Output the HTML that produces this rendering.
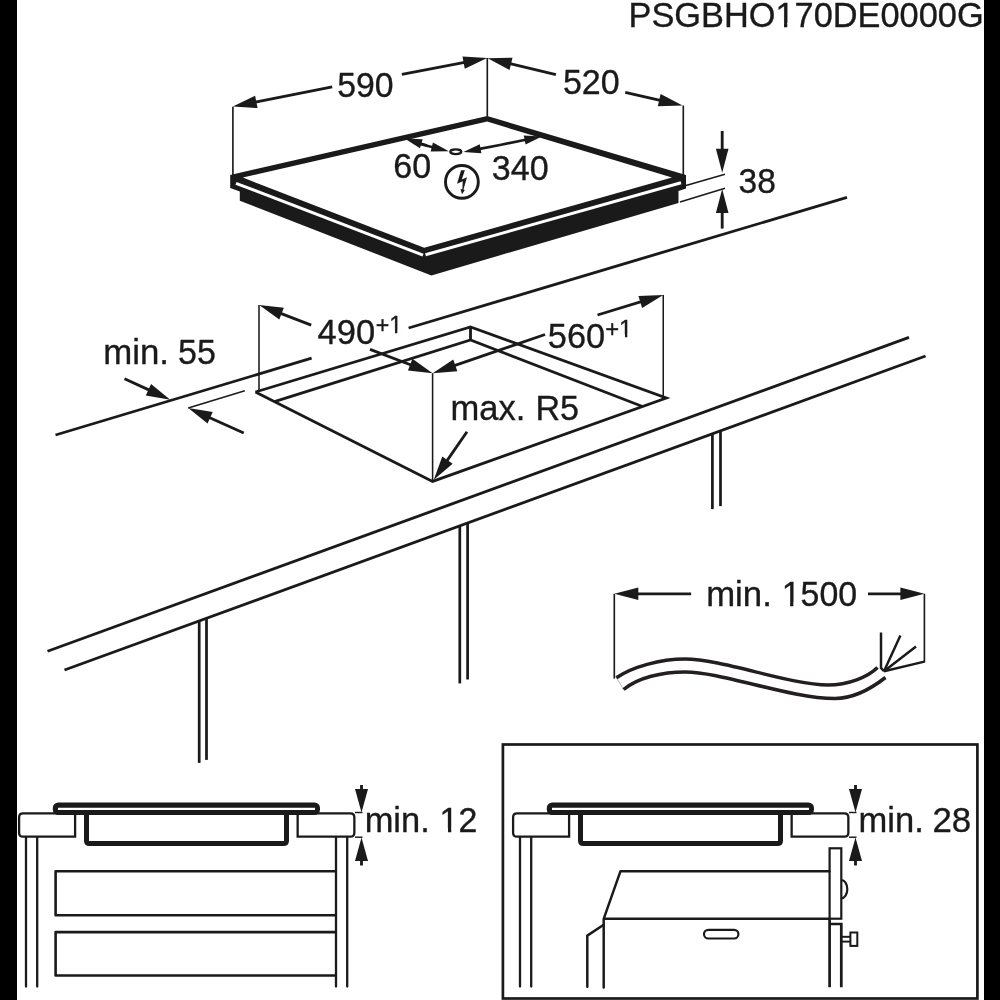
<!DOCTYPE html>
<html><head><meta charset="utf-8"><style>
html,body{margin:0;padding:0;background:#fff;}
svg{display:block;will-change:transform;}
text{font-family:"Liberation Sans",sans-serif;fill:#1a1a1a;stroke:#1a1a1a;stroke-width:0.35px;}
</style></head><body>
<svg width="1000" height="1000" viewBox="0 0 1000 1000">
<rect x="0" y="0" width="1000" height="1000" fill="#fff"/>
<polygon points="230.20,175.00 487.20,116.00 686.00,175.00 686.00,188.50 678.50,191.00 678.50,203.00 431.40,275.40 239.80,200.80 239.80,191.60 230.20,188.00" fill="#1a1a1a"/>
<polygon points="242.80,177.60 487.20,121.60 672.00,177.50 424.20,247.80" fill="#fff"/>
<line x1="236.00" y1="183.30" x2="423.00" y2="255.10" stroke="#fff" stroke-width="3.0" stroke-linecap="butt"/>
<line x1="425.50" y1="254.80" x2="681.00" y2="182.75" stroke="#fff" stroke-width="3.0" stroke-linecap="butt"/>
<line x1="232.90" y1="106.70" x2="232.90" y2="175.00" stroke="#1a1a1a" stroke-width="1.65" stroke-linecap="butt"/>
<line x1="487.30" y1="58.00" x2="487.30" y2="116.50" stroke="#1a1a1a" stroke-width="1.65" stroke-linecap="butt"/>
<line x1="683.30" y1="105.50" x2="683.30" y2="175.00" stroke="#1a1a1a" stroke-width="1.65" stroke-linecap="butt"/>
<line x1="255.36" y1="102.11" x2="332.20" y2="86.80" stroke="#1a1a1a" stroke-width="2.85" stroke-linecap="butt"/>
<polygon points="232.80,106.60 257.57,108.09 255.11,95.73" fill="#1a1a1a"/>
<line x1="464.60" y1="62.39" x2="401.90" y2="74.30" stroke="#1a1a1a" stroke-width="2.85" stroke-linecap="butt"/>
<polygon points="487.20,58.10 462.45,56.39 464.80,68.77" fill="#1a1a1a"/>
<line x1="510.06" y1="63.61" x2="555.90" y2="74.70" stroke="#1a1a1a" stroke-width="2.85" stroke-linecap="butt"/>
<polygon points="487.70,58.20 509.55,69.97 512.51,57.72" fill="#1a1a1a"/>
<line x1="660.19" y1="100.35" x2="625.20" y2="92.30" stroke="#1a1a1a" stroke-width="2.85" stroke-linecap="butt"/>
<polygon points="682.60,105.50 660.62,93.98 657.80,106.26" fill="#1a1a1a"/>
<line x1="722.20" y1="149.80" x2="722.20" y2="131.00" stroke="#1a1a1a" stroke-width="2.85" stroke-linecap="butt"/>
<polygon points="722.20,172.80 728.50,148.80 715.90,148.80" fill="#1a1a1a"/>
<line x1="722.20" y1="212.00" x2="722.20" y2="228.60" stroke="#1a1a1a" stroke-width="2.85" stroke-linecap="butt"/>
<polygon points="722.20,189.00 715.90,213.00 728.50,213.00" fill="#1a1a1a"/>
<line x1="686.00" y1="185.50" x2="725.00" y2="174.20" stroke="#1a1a1a" stroke-width="1.55" stroke-linecap="butt"/>
<line x1="680.00" y1="202.00" x2="725.00" y2="188.20" stroke="#1a1a1a" stroke-width="1.55" stroke-linecap="butt"/>
<ellipse cx="455.8" cy="151.75" rx="5.5" ry="2.3" fill="#fff" stroke="#1a1a1a" stroke-width="2.3"/>
<line x1="420.37" y1="143.46" x2="427.00" y2="145.50" stroke="#1a1a1a" stroke-width="2.73" stroke-linecap="butt"/>
<polygon points="404.60,138.60 419.97,148.15 422.68,139.36" fill="#1a1a1a"/>
<line x1="432.81" y1="147.25" x2="420.00" y2="144.00" stroke="#1a1a1a" stroke-width="2.73" stroke-linecap="butt"/>
<polygon points="448.80,151.30 432.97,142.54 430.71,151.46" fill="#1a1a1a"/>
<line x1="479.61" y1="148.90" x2="500.00" y2="145.00" stroke="#1a1a1a" stroke-width="2.73" stroke-linecap="butt"/>
<polygon points="463.40,152.00 481.45,153.23 479.72,144.19" fill="#1a1a1a"/>
<line x1="525.64" y1="139.73" x2="500.00" y2="145.00" stroke="#1a1a1a" stroke-width="2.73" stroke-linecap="butt"/>
<polygon points="541.80,136.40 523.73,135.42 525.59,144.43" fill="#1a1a1a"/>
<circle cx="461.9" cy="181.9" r="16.4" fill="none" stroke="#1a1a1a" stroke-width="2.9"/>
<polygon points="461.06,170.13 464.84,170.13 461.83,179.58 467.00,177.24 463.49,189.48 464.84,189.93 462.05,194.20 460.48,189.25 462.37,189.25 462.73,181.15 457.01,183.85" fill="#1a1a1a"/>
<line x1="55.50" y1="435.00" x2="311.60" y2="358.20" stroke="#1a1a1a" stroke-width="2.85" stroke-linecap="butt"/>
<line x1="408.60" y1="328.00" x2="847.00" y2="197.40" stroke="#1a1a1a" stroke-width="2.85" stroke-linecap="butt"/>
<line x1="47.50" y1="651.25" x2="909.00" y2="337.40" stroke="#1a1a1a" stroke-width="2.85" stroke-linecap="butt"/>
<line x1="64.50" y1="670.00" x2="925.60" y2="356.00" stroke="#1a1a1a" stroke-width="2.85" stroke-linecap="butt"/>
<line x1="199.20" y1="620.89" x2="199.20" y2="762.90" stroke="#1a1a1a" stroke-width="2.73" stroke-linecap="butt"/>
<line x1="206.50" y1="618.23" x2="206.50" y2="759.90" stroke="#1a1a1a" stroke-width="2.73" stroke-linecap="butt"/>
<line x1="459.80" y1="525.87" x2="459.80" y2="683.40" stroke="#1a1a1a" stroke-width="2.73" stroke-linecap="butt"/>
<line x1="467.60" y1="523.03" x2="467.60" y2="679.50" stroke="#1a1a1a" stroke-width="2.73" stroke-linecap="butt"/>
<line x1="712.40" y1="433.78" x2="712.40" y2="509.10" stroke="#1a1a1a" stroke-width="2.73" stroke-linecap="butt"/>
<line x1="720.50" y1="430.82" x2="720.50" y2="506.10" stroke="#1a1a1a" stroke-width="2.73" stroke-linecap="butt"/>
<polyline points="255.40,392.00 470.50,327.00 666.25,398.00 432.60,481.40 255.40,392.00" fill="none" stroke="#1a1a1a" stroke-width="2.85" stroke-linejoin="miter" stroke-linecap="butt"/>
<polyline points="274.50,401.60 470.50,340.00 642.50,406.50" fill="none" stroke="#1a1a1a" stroke-width="2.85" stroke-linejoin="miter" stroke-linecap="butt"/>
<line x1="470.50" y1="327.00" x2="470.50" y2="340.00" stroke="#1a1a1a" stroke-width="2.85" stroke-linecap="butt"/>
<line x1="259.00" y1="305.00" x2="259.00" y2="391.00" stroke="#1a1a1a" stroke-width="1.55" stroke-linecap="butt"/>
<line x1="432.60" y1="373.20" x2="432.60" y2="481.40" stroke="#1a1a1a" stroke-width="1.55" stroke-linecap="butt"/>
<line x1="663.25" y1="295.00" x2="663.25" y2="397.50" stroke="#1a1a1a" stroke-width="1.55" stroke-linecap="butt"/>
<line x1="280.64" y1="313.33" x2="311.20" y2="325.20" stroke="#1a1a1a" stroke-width="2.85" stroke-linecap="butt"/>
<polygon points="259.20,305.00 279.29,319.56 283.85,307.82" fill="#1a1a1a"/>
<line x1="411.10" y1="365.03" x2="370.00" y2="349.40" stroke="#1a1a1a" stroke-width="2.85" stroke-linecap="butt"/>
<polygon points="432.60,373.20 412.41,358.78 407.93,370.56" fill="#1a1a1a"/>
<line x1="454.35" y1="365.71" x2="545.00" y2="334.50" stroke="#1a1a1a" stroke-width="2.85" stroke-linecap="butt"/>
<polygon points="432.60,373.20 457.34,371.34 453.24,359.43" fill="#1a1a1a"/>
<line x1="641.25" y1="301.69" x2="597.50" y2="315.00" stroke="#1a1a1a" stroke-width="2.85" stroke-linecap="butt"/>
<polygon points="663.25,295.00 638.46,295.96 642.12,308.01" fill="#1a1a1a"/>
<line x1="149.35" y1="390.16" x2="124.50" y2="378.75" stroke="#1a1a1a" stroke-width="2.85" stroke-linecap="butt"/>
<polygon points="170.25,399.75 151.07,384.01 145.81,395.46" fill="#1a1a1a"/>
<line x1="209.22" y1="417.45" x2="243.75" y2="433.00" stroke="#1a1a1a" stroke-width="2.85" stroke-linecap="butt"/>
<polygon points="188.25,408.00 207.54,423.60 212.72,412.11" fill="#1a1a1a"/>
<line x1="188.25" y1="408.00" x2="244.80" y2="390.75" stroke="#1a1a1a" stroke-width="1.45" stroke-linecap="butt"/>
<line x1="446.88" y1="460.88" x2="467.00" y2="431.80" stroke="#1a1a1a" stroke-width="2.85" stroke-linecap="butt"/>
<polygon points="433.80,479.80 452.63,463.65 442.27,456.48" fill="#1a1a1a"/>
<line x1="614.30" y1="593.80" x2="614.30" y2="678.60" stroke="#1a1a1a" stroke-width="1.65" stroke-linecap="butt"/>
<line x1="924.40" y1="593.80" x2="924.40" y2="662.40" stroke="#1a1a1a" stroke-width="1.65" stroke-linecap="butt"/>
<line x1="637.30" y1="593.80" x2="691.10" y2="593.80" stroke="#1a1a1a" stroke-width="2.85" stroke-linecap="butt"/>
<polygon points="614.30,593.80 638.30,600.10 638.30,587.50" fill="#1a1a1a"/>
<line x1="901.40" y1="593.80" x2="868.00" y2="593.80" stroke="#1a1a1a" stroke-width="2.85" stroke-linecap="butt"/>
<polygon points="924.40,593.80 900.40,587.50 900.40,600.10" fill="#1a1a1a"/>
<line x1="616.4" y1="677.8" x2="623.6" y2="689.5" stroke="#bbb" stroke-width="1"/>
<path d="M616.4,677.8 C632,667 660,659.1 685.2,659.1 C722,659.1 790,685 828,685 C848,685 868,677 877.5,667.5" fill="none" stroke="#231f20" stroke-width="3.5"/>
<path d="M623.6,689.5 C638,677.5 662,671.9 685.2,671.9 C722,671.9 790,698.5 835,698.5 C855,698.5 872,688 885.5,677.5" fill="none" stroke="#231f20" stroke-width="3.5"/>
<polyline points="881.00,632.40 881.00,668.00 884.00,671.20" fill="none" stroke="#1a1a1a" stroke-width="2.48" stroke-linejoin="miter" stroke-linecap="butt"/>
<line x1="884.00" y1="671.20" x2="900.40" y2="635.60" stroke="#1a1a1a" stroke-width="2.48" stroke-linecap="butt"/>
<line x1="884.00" y1="671.20" x2="916.00" y2="646.40" stroke="#1a1a1a" stroke-width="2.48" stroke-linecap="butt"/>
<line x1="884.00" y1="671.20" x2="924.40" y2="661.60" stroke="#1a1a1a" stroke-width="2.48" stroke-linecap="butt"/>
<path d="M75.1,813.35 H23.1 Q19.1,813.35 19.1,817.35 V832.65 Q19.1,836.65 23.1,836.65 H75.1 Z" fill="#fff" stroke="#1a1a1a" stroke-width="2.3"/>
<path d="M297.65,813.35 H350.35 Q354.35,813.35 354.35,817.35 V832.65 Q354.35,836.65 350.35,836.65 H297.65 Z" fill="#fff" stroke="#1a1a1a" stroke-width="2.3"/>
<path d="M86.5,813 V840.5 Q86.5,843.5 89.5,843.5 H283.5 Q286.5,843.5 286.5,840.5 V813" fill="none" stroke="#1a1a1a" stroke-width="5"/>
<rect x="52.8" y="802.5" width="267.2" height="12.5" rx="5.5" ry="5.5" fill="#1a1a1a"/>
<line x1="58.00" y1="808.90" x2="315.00" y2="808.90" stroke="#fff" stroke-width="2.1" stroke-linecap="butt"/>
<line x1="26" y1="837.5" x2="26" y2="986.5" stroke="#1a1a1a" stroke-width="2.3" stroke-linecap="round"/>
<line x1="37.2" y1="837.5" x2="37.2" y2="986.5" stroke="#1a1a1a" stroke-width="2.3" stroke-linecap="round"/>
<line x1="336" y1="837.5" x2="336" y2="986.5" stroke="#1a1a1a" stroke-width="2.3" stroke-linecap="round"/>
<line x1="347.2" y1="837.5" x2="347.2" y2="986.5" stroke="#1a1a1a" stroke-width="2.3" stroke-linecap="round"/>
<line x1="355.00" y1="812.50" x2="362.50" y2="812.50" stroke="#1a1a1a" stroke-width="1.45" stroke-linecap="butt"/>
<line x1="355.00" y1="837.20" x2="362.50" y2="837.20" stroke="#1a1a1a" stroke-width="1.45" stroke-linecap="butt"/>
<line x1="361.50" y1="790.00" x2="361.50" y2="785.00" stroke="#1a1a1a" stroke-width="2.85" stroke-linecap="butt"/>
<polygon points="361.50,812.50 368.00,789.00 355.00,789.00" fill="#1a1a1a"/>
<line x1="361.50" y1="860.00" x2="361.50" y2="865.50" stroke="#1a1a1a" stroke-width="2.85" stroke-linecap="butt"/>
<polygon points="361.50,837.50 355.00,861.00 368.00,861.00" fill="#1a1a1a"/>
<polyline points="336.00,871.20 55.60,871.20 55.60,915.30 336.00,915.30" fill="none" stroke="#1a1a1a" stroke-width="2.6" stroke-linejoin="round" stroke-linecap="butt"/>
<polyline points="336.00,932.10 55.60,932.10 55.60,975.50 336.00,975.50" fill="none" stroke="#1a1a1a" stroke-width="2.6" stroke-linejoin="round" stroke-linecap="butt"/>
<path d="M569.1,813.35 H517.1 Q513.1,813.35 513.1,817.35 V832.65 Q513.1,836.65 517.1,836.65 H569.1 Z" fill="#fff" stroke="#1a1a1a" stroke-width="2.3"/>
<path d="M791.65,813.35 H844.35 Q848.35,813.35 848.35,817.35 V832.65 Q848.35,836.65 844.35,836.65 H791.65 Z" fill="#fff" stroke="#1a1a1a" stroke-width="2.3"/>
<path d="M580.5,813 V840.5 Q580.5,843.5 583.5,843.5 H777.5 Q780.5,843.5 780.5,840.5 V813" fill="none" stroke="#1a1a1a" stroke-width="5"/>
<rect x="546.8" y="802.5" width="267.2" height="12.5" rx="5.5" ry="5.5" fill="#1a1a1a"/>
<line x1="552.00" y1="808.90" x2="809.00" y2="808.90" stroke="#fff" stroke-width="2.1" stroke-linecap="butt"/>
<line x1="520" y1="837.5" x2="520" y2="986.5" stroke="#1a1a1a" stroke-width="2.3" stroke-linecap="round"/>
<line x1="531.2" y1="837.5" x2="531.2" y2="986.5" stroke="#1a1a1a" stroke-width="2.3" stroke-linecap="round"/>
<line x1="849.00" y1="812.50" x2="856.50" y2="812.50" stroke="#1a1a1a" stroke-width="1.45" stroke-linecap="butt"/>
<line x1="849.00" y1="837.20" x2="856.50" y2="837.20" stroke="#1a1a1a" stroke-width="1.45" stroke-linecap="butt"/>
<line x1="855.50" y1="790.00" x2="855.50" y2="785.00" stroke="#1a1a1a" stroke-width="2.85" stroke-linecap="butt"/>
<polygon points="855.50,812.50 862.00,789.00 849.00,789.00" fill="#1a1a1a"/>
<line x1="855.50" y1="860.00" x2="855.50" y2="865.50" stroke="#1a1a1a" stroke-width="2.85" stroke-linecap="butt"/>
<polygon points="855.50,837.50 849.00,861.00 862.00,861.00" fill="#1a1a1a"/>
<rect x="502.9" y="744.5" width="474.5" height="254" fill="none" stroke="#1a1a1a" stroke-width="2.7"/>
<polyline points="829.60,871.20 620.50,871.20 603.70,918.80 603.70,987.40" fill="none" stroke="#1a1a1a" stroke-width="2.48" stroke-linejoin="round" stroke-linecap="round"/>
<line x1="603.70" y1="918.80" x2="829.60" y2="918.80" stroke="#1a1a1a" stroke-width="2.6" stroke-linecap="butt"/>
<polyline points="603.70,924.70 587.30,935.60 587.30,986.70" fill="none" stroke="#1a1a1a" stroke-width="2.48" stroke-linejoin="round" stroke-linecap="round"/>
<rect x="704" y="929.8" width="34.4" height="8.7" rx="4.35" ry="4.35" fill="none" stroke="#1a1a1a" stroke-width="2.2"/>
<rect x="829.6" y="848.3" width="11.7" height="70.4" fill="none" stroke="#1a1a1a" stroke-width="2.2"/>
<path d="M841.3,880 A6,9.2 0 0 1 841.3,898.4" fill="none" stroke="#1a1a1a" stroke-width="2.2"/>
<line x1="829.60" y1="918.70" x2="829.60" y2="987.20" stroke="#1a1a1a" stroke-width="2.73" stroke-linecap="butt"/>
<polyline points="829.60,924.00 841.30,924.00 841.30,987.20" fill="none" stroke="#1a1a1a" stroke-width="2.73" stroke-linejoin="miter" stroke-linecap="butt"/>
<line x1="841.30" y1="936.80" x2="850.40" y2="936.80" stroke="#1a1a1a" stroke-width="1.95" stroke-linecap="butt"/>
<line x1="841.30" y1="941.60" x2="850.40" y2="941.60" stroke="#1a1a1a" stroke-width="1.95" stroke-linecap="butt"/>
<rect x="850.4" y="932.5" width="6.9" height="13.4" fill="none" stroke="#1a1a1a" stroke-width="2.0"/>
<text x="628.56" y="26.7" font-size="35.4" textLength="355.07" lengthAdjust="spacingAndGlyphs">PSGBHO170DE0000G</text>
<rect x="777.01" y="22.74" width="7.00" height="5.96" fill="#fff"/>
<rect x="787.30" y="22.74" width="6.42" height="5.96" fill="#fff"/>
<text x="337.33" y="97.25" font-size="35.3" textLength="56.30" lengthAdjust="spacingAndGlyphs">590</text>
<text x="562.92" y="93.6" font-size="35.3" textLength="56.72" lengthAdjust="spacingAndGlyphs">520</text>
<text x="738.60" y="192.95" font-size="35.3" textLength="37.31" lengthAdjust="spacingAndGlyphs">38</text>
<text x="393.22" y="177.9" font-size="35.3" textLength="37.91" lengthAdjust="spacingAndGlyphs">60</text>
<text x="491.78" y="180.3" font-size="35.3" textLength="56.86" lengthAdjust="spacingAndGlyphs">340</text>
<text x="317.62" y="344.4" font-size="35.3" textLength="57.54" lengthAdjust="spacingAndGlyphs">490</text>
<text x="375.76" y="333.4" font-size="23.2" textLength="26.49" lengthAdjust="spacingAndGlyphs">+1</text>
<rect x="390.05" y="330.60" width="4.98" height="4.80" fill="#fff"/>
<rect x="397.35" y="330.60" width="4.50" height="4.80" fill="#fff"/>
<text x="547.85" y="348.1" font-size="35.3" textLength="57.29" lengthAdjust="spacingAndGlyphs">560</text>
<text x="605.23" y="337.1" font-size="23.2" textLength="27.14" lengthAdjust="spacingAndGlyphs">+1</text>
<rect x="619.90" y="334.30" width="5.09" height="4.80" fill="#fff"/>
<rect x="627.35" y="334.30" width="4.60" height="4.80" fill="#fff"/>
<text x="103.28" y="363.8" font-size="35.3" textLength="65.72" lengthAdjust="spacingAndGlyphs">min.</text>
<text x="178.01" y="363.8" font-size="35.3" textLength="37.85" lengthAdjust="spacingAndGlyphs">55</text>
<text x="450.59" y="420.3" font-size="35.3" textLength="74.87" lengthAdjust="spacingAndGlyphs">max.</text>
<text x="535.48" y="420.3" font-size="35.3" textLength="43.59" lengthAdjust="spacingAndGlyphs">R5</text>
<text x="706.18" y="606.2" font-size="35.3" textLength="65.61" lengthAdjust="spacingAndGlyphs">min.</text>
<text x="781.72" y="606.2" font-size="35.3" textLength="75.41" lengthAdjust="spacingAndGlyphs">1500</text>
<rect x="783.19" y="602.25" width="6.92" height="5.95" fill="#fff"/>
<rect x="793.37" y="602.25" width="6.34" height="5.95" fill="#fff"/>
<text x="364.70" y="832.2" font-size="35.3" textLength="65.06" lengthAdjust="spacingAndGlyphs">min.</text>
<text x="439.62" y="832.2" font-size="35.3" textLength="37.71" lengthAdjust="spacingAndGlyphs">12</text>
<rect x="441.09" y="828.25" width="6.92" height="5.95" fill="#fff"/>
<rect x="451.27" y="828.25" width="6.35" height="5.95" fill="#fff"/>
<text x="858.49" y="832.2" font-size="35.3" textLength="65.28" lengthAdjust="spacingAndGlyphs">min.</text>
<text x="932.43" y="832.2" font-size="35.3" textLength="38.73" lengthAdjust="spacingAndGlyphs">28</text>
<rect x="0" y="0" width="17" height="1000" fill="#000"/>
<rect x="984" y="0" width="16" height="1000" fill="#000"/>
</svg>
</body></html>
